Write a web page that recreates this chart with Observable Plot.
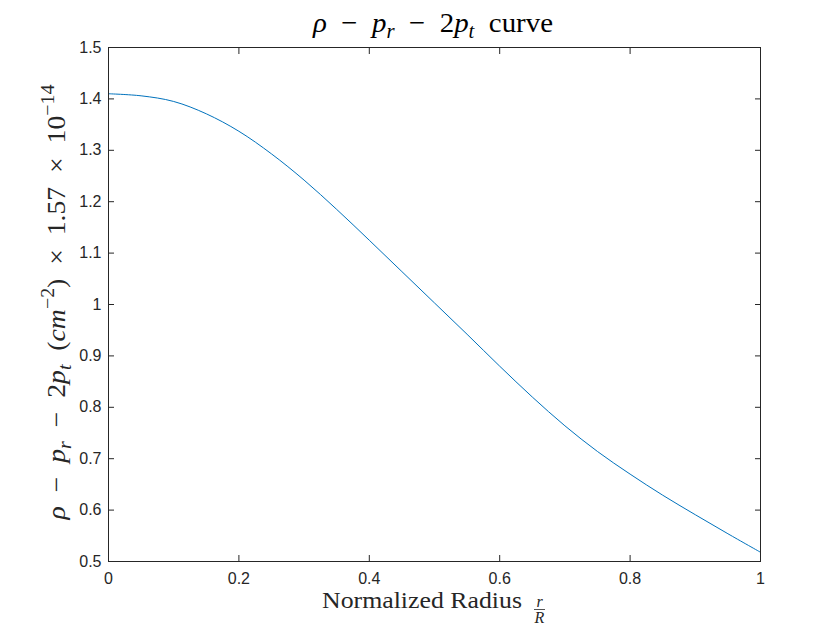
<!DOCTYPE html>
<html>
<head>
<meta charset="utf-8">
<script src="https://cdn.jsdelivr.net/npm/d3@7"></script>
<script src="https://cdn.jsdelivr.net/npm/@observablehq/plot@0.6"></script>
<style>
  html, body { margin: 0; padding: 0; background: #fff; }
  #chart { width: 840px; height: 630px; }
</style>
</head>
<body>
<div id="chart"></div>
<script>
// Normalized radius r/R
const radius = [0, 0.05, 0.1, 0.15, 0.2, 0.25, 0.3, 0.35, 0.4, 0.45, 0.5,
                0.55, 0.6, 0.65, 0.7, 0.75, 0.8, 0.85, 0.9, 0.95, 1.0];
// rho - p_r - 2 p_t  (scaled)
const value = [1.410, 1.406, 1.395, 1.371, 1.337, 1.293, 1.242, 1.185, 1.125, 1.064, 1.003,
               0.942, 0.880, 0.820, 0.764, 0.714, 0.670, 0.629, 0.591, 0.554, 0.518];
const xTicks = [0, 0.2, 0.4, 0.6, 0.8, 1];
const yTicks = [0.5, 0.6, 0.7, 0.8, 0.9, 1.0, 1.1, 1.2, 1.3, 1.4, 1.5];

const data = radius.map((r, i) => ({r, v: value[i]}));
const fmt = d => String(+d.toFixed(1));
const axisColor = "#262626";

const chart = Plot.plot({
  width: 840,
  height: 630,
  marginLeft: 108,
  marginRight: 80,
  marginTop: 47,
  marginBottom: 69,
  style: {fontFamily: "Liberation Sans, Arial, sans-serif", fontSize: "16px", color: axisColor, background: "#fff"},
  x: {domain: [0, 1]},
  y: {domain: [0.5, 1.5]},
  marks: [
    Plot.line(data, {x: "r", y: "v", stroke: "#0072BD", strokeWidth: 1, curve: "catmull-rom"}),
    Plot.frame({stroke: axisColor, strokeWidth: 1}),
    // labels
    Plot.axisX(xTicks, {anchor: "bottom", tickSize: 0, tickPadding: 11, tickFormat: fmt, label: null, fill: axisColor}),
    Plot.axisY(yTicks, {anchor: "left", tickSize: 0, tickPadding: 7, tickFormat: fmt, label: null, fill: axisColor}),
    // inward ticks on all four sides
    Plot.axisX(xTicks, {anchor: "bottom", tickSize: -6, tickFormat: () => "", label: null, stroke: axisColor}),
    Plot.axisX(xTicks, {anchor: "top", tickSize: -6, tickFormat: () => "", label: null, stroke: axisColor}),
    Plot.axisY(yTicks, {anchor: "left", tickSize: -6, tickFormat: () => "", label: null, stroke: axisColor}),
    Plot.axisY(yTicks, {anchor: "right", tickSize: -6, tickFormat: () => "", label: null, stroke: axisColor})
  ]
});
document.getElementById("chart").appendChild(chart);

const svg = d3.select(chart);
const serif = "Liberation Serif, Times New Roman, serif";
const EN = "\u2002";

// runs of [text, italic, shift(-1 sup / +1 sub / 0)]
function addRuns(textSel, runs, baseSize) {
  let cur = 0;
  for (const [t, it, shift] of runs) {
    const size = shift ? baseSize * 0.72 : baseSize;
    const target = shift === -1 ? -0.42 * baseSize : shift === 1 ? 0.22 * baseSize : 0;
    const dy = target - cur;
    cur = target;
    textSel.append("tspan")
      .attr("dy", dy)
      .attr("font-style", it ? "italic" : "normal")
      .attr("font-size", size)
      .text(t);
  }
}

// Title
const title = svg.append("text")
  .attr("x", 433).attr("y", 32)
  .attr("text-anchor", "middle")
  .attr("font-family", serif)
  .attr("font-size", 28)
  .attr("fill", "#000")
  .attr("textLength", 240)
  .attr("lengthAdjust", "spacingAndGlyphs");
addRuns(title, [
  ["ρ", true, 0], [EN + "−" + EN, false, 0], ["p", true, 0], ["r", true, 1],
  [EN + "−" + EN + "2", false, 0], ["p", true, 0], ["t", true, 1], [EN + "curve", false, 0]
], 28);

// Y label
const ylab = svg.append("text")
  .attr("transform", "translate(65,302) rotate(-90)")
  .attr("text-anchor", "middle")
  .attr("font-family", serif)
  .attr("font-size", 26)
  .attr("fill", axisColor)
  .attr("textLength", 435)
  .attr("lengthAdjust", "spacingAndGlyphs");
addRuns(ylab, [
  ["ρ", true, 0], [EN + "−" + EN, false, 0], ["p", true, 0], ["r", true, 1],
  [EN + "−" + EN + "2", false, 0], ["p", true, 0], ["t", true, 1],
  [EN + "(", false, 0], ["cm", true, 0], ["−2", false, -1],
  [")" + EN + "×" + EN + "1.57" + EN + "×" + EN + "10", false, 0], ["−14", false, -1]
], 26);

// X label with stacked fraction r/R
svg.append("text")
  .attr("x", 322).attr("y", 608)
  .attr("text-anchor", "start")
  .attr("font-family", serif)
  .attr("font-size", 23)
  .attr("fill", axisColor)
  .attr("textLength", 200)
  .attr("lengthAdjust", "spacingAndGlyphs")
  .text("Normalized Radius");
const fx = 539.5;
svg.append("text").attr("x", fx).attr("y", 606.5).attr("text-anchor", "middle")
  .attr("font-family", serif).attr("font-style", "italic").attr("font-size", 16)
  .attr("fill", axisColor).text("r");
svg.append("line").attr("x1", 534).attr("x2", 545)
  .attr("y1", 609.5).attr("y2", 609.5).attr("stroke", axisColor).attr("stroke-width", 0.8);
svg.append("text").attr("x", fx).attr("y", 623).attr("text-anchor", "middle")
  .attr("font-family", serif).attr("font-style", "italic").attr("font-size", 16)
  .attr("fill", axisColor).text("R");
</script>
</body>
</html>
